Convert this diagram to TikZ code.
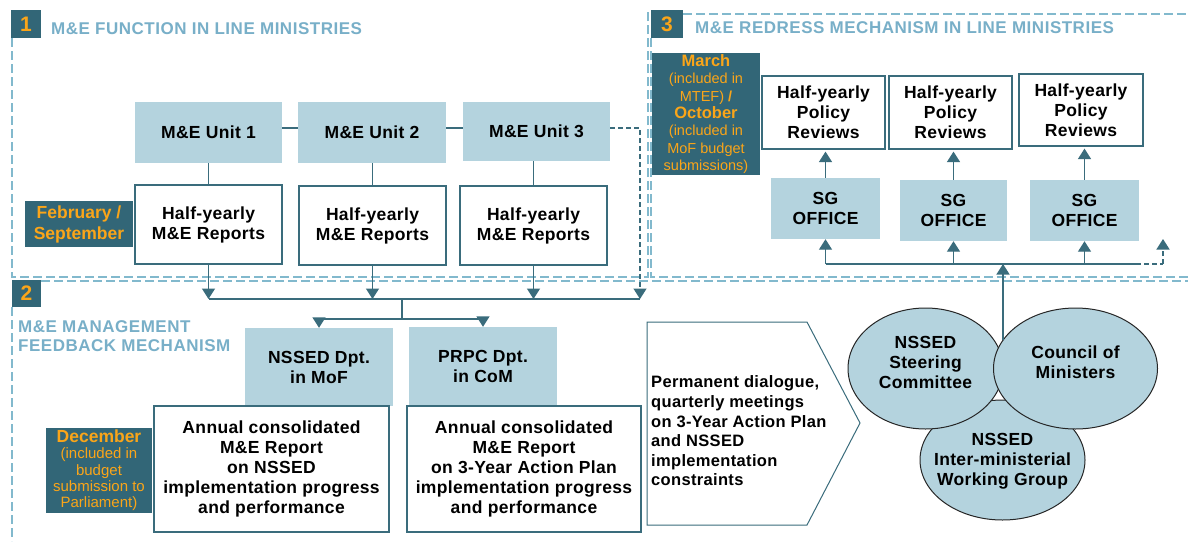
\documentclass[tikz,border=0pt]{standalone}
\usepackage{fontspec}
\setmainfont{Liberation Sans}
\usetikzlibrary{arrows.meta,shapes.geometric}
\definecolor{tagbg}{RGB}{50,102,119}
\definecolor{tagfg}{RGB}{250,165,25}
\definecolor{lbfill}{RGB}{180,211,222}
\definecolor{ttlblue}{RGB}{120,175,200}
\definecolor{secdash}{RGB}{130,185,205}
\definecolor{lncol}{RGB}{58,108,124}
\tikzset{
  mainf/.style={font=\fontsize{17.5}{20}\selectfont\bfseries\addfontfeature{LetterSpace=2}},
  lbox/.style={mainf, fill=lbfill, draw=none, align=center, inner sep=1pt},
  wbox/.style={mainf, fill=white, draw=lncol, line width=1.2pt, align=center, inner sep=1pt},
  tagbox/.style={fill=tagbg, text=tagfg, align=center, inner sep=0pt},
  numtag/.style={tagbox, font=\fontsize{21}{24}\selectfont\bfseries},
  ttl/.style={text=ttlblue, font=\fontsize{17}{19}\selectfont\bfseries\addfontfeature{LetterSpace=3}, align=left, inner sep=0pt},
  secb/.style={draw=secdash, line width=1.3pt, dash pattern=on 9pt off 4pt},
  conn/.style={draw=lncol, line width=1.4pt},
  arr/.style={conn, -{Triangle[length=10.5pt,width=13pt]}},
  ell/.style={ellipse, fill=lbfill, draw=black!85, line width=1pt, inner sep=0pt},
  elltxt/.style={mainf, align=center, inner sep=0pt}
}
\begin{document}
\begin{tikzpicture}[x=1pt,y=-1pt]
\useasboundingbox (0,0) rectangle (1188,541);
\fill[white] (0,0) rectangle (1188,541);

% section borders
\draw[secb] (12,38) -- (12,277) -- (648,277) -- (648,10);
\draw[secb] (651,38) -- (651,277) -- (1188,277);
\draw[secb] (683,14) -- (1188,14);
\draw[secb] (41,281) -- (1188,281);
\draw[secb] (12,307) -- (12,541);

% section tags and titles
\node[numtag, minimum width=30pt, minimum height=28pt] (n1) at (26,24) {1};
\node[ttl, anchor=west] (t1) at (51,29) {M\&E FUNCTION IN LINE MINISTRIES};
\node[numtag, minimum width=29pt, minimum height=27pt] (n2) at (26.5,293.5) {2};
\node[ttl, anchor=west] (t2) at (18,336.5) {M\&E MANAGEMENT\\FEEDBACK MECHANISM};
\node[numtag, minimum width=32pt, minimum height=28pt] (n3) at (667,24) {3};
\node[ttl, anchor=west] (t3) at (695,28) {M\&E REDRESS MECHANISM IN LINE MINISTRIES};

% section 1
\node[lbox, minimum width=147pt, minimum height=61pt] (u1) at (208.5,132.5) {M\&E Unit 1};
\node[lbox, minimum width=148pt, minimum height=61pt] (u2) at (372,132.5) {M\&E Unit 2};
\node[lbox, minimum width=147pt, minimum height=59pt] (u3) at (536.5,131.5) {M\&E Unit 3};
\node[wbox, minimum width=147pt, minimum height=79pt] (r1) at (208.5,224.5) {Half-yearly\\M\&E Reports};
\node[wbox, minimum width=147pt, minimum height=79pt] (r2) at (372.5,225.5) {Half-yearly\\M\&E Reports};
\node[wbox, minimum width=147pt, minimum height=79pt] (r3) at (533.5,225.5) {Half-yearly\\M\&E Reports};
\node[tagbox, font=\fontsize{17.5}{21}\selectfont\bfseries, minimum width=108pt, minimum height=46pt] (feb) at (79,224) {February /\\September};

\coordinate (h1) at (0,128);
\coordinate (bus) at (0,299);
\coordinate (d3) at (640,299);
\draw[conn] (u1.east |- h1) -- (u2.west |- h1);
\draw[conn] (u2.east |- h1) -- (u3.west |- h1);
\draw[conn] (u1.south -| r1.north) -- (r1.north);
\draw[conn] (u2.south -| r2.north) -- (r2.north);
\draw[conn] (u3.south -| r3.north) -- (r3.north);
\draw[arr, dash pattern=on 5pt off 3pt] (u3.east |- h1) -| (d3);
\draw[arr] (r1.south) -- (r1.south |- bus);
\draw[arr] (r2.south) -- (r2.south |- bus);
\draw[arr] (r3.south) -- (r3.south |- bus);
\draw[conn] (r1.south |- bus) -- (d3);

% section 2
\node[lbox, minimum width=148pt, minimum height=78pt] (nssed) at (319,367) {NSSED Dpt.\\in MoF};
\node[lbox, minimum width=148pt, minimum height=79pt] (prpc) at (483,366.5) {PRPC Dpt.\\in CoM};
\node[wbox, minimum width=235pt, minimum height=126pt] (annA) at (271.5,469) {Annual consolidated\\M\&E Report\\on NSSED\\implementation progress\\and performance};
\node[wbox, minimum width=234pt, minimum height=126pt] (annB) at (524,469) {Annual consolidated\\M\&E Report\\on 3-Year Action Plan\\implementation progress\\and performance};
\node[tagbox, font=\fontsize{15}{16.3}\selectfont, minimum width=106pt, minimum height=85pt] (dec) at (99,470.5) {{\fontsize{17.5}{18}\selectfont\bfseries December}\\(included in\\budget\\submission to\\Parliament)};

\coordinate (j2) at (402,299);
\coordinate (j3) at (402,319);
\draw[conn] (j2) -- (j3);
\draw[arr] (j3) -| (nssed.north);
\draw[arr] (j3) -| (prpc.north);

% section 3
\node[tagbox, font=\fontsize{14.5}{17.4}\selectfont, minimum width=108pt, minimum height=122pt] (mar) at (706,114) {{\fontsize{16.5}{17.4}\selectfont\bfseries March}\\(included in\\MTEF) {\bfseries /}\\{\fontsize{16.5}{17.4}\selectfont\bfseries October}\\(included in\\MoF budget\\submissions)};
\node[wbox, minimum width=123pt, minimum height=73pt] (pr1) at (823.5,112.5) {Half-yearly\\Policy\\Reviews};
\node[wbox, minimum width=123pt, minimum height=73pt] (pr2) at (950.5,112.5) {Half-yearly\\Policy\\Reviews};
\node[wbox, minimum width=124pt, minimum height=72pt] (pr3) at (1081,110) {Half-yearly\\Policy\\Reviews};
\node[lbox, minimum width=109pt, minimum height=61pt] (sg1) at (825.5,208.5) {SG\\OFFICE};
\node[lbox, minimum width=107pt, minimum height=61pt] (sg2) at (953.5,210.5) {SG\\OFFICE};
\node[lbox, minimum width=109pt, minimum height=61pt] (sg3) at (1084.5,210.5) {SG\\OFFICE};

\coordinate (b3) at (0,264);
\coordinate (b3e) at (1136,264);
\coordinate (b3d) at (1163,264);
\coordinate (b3t) at (1163,239);
\draw[arr, shorten >=2pt] (sg1.north) -- (sg1.north |- pr1.south);
\draw[arr, shorten >=2pt] (sg2.north) -- (sg2.north |- pr2.south);
\draw[arr, shorten >=2pt] (sg3.north) -- (sg3.north |- pr3.south);
\draw[conn] (sg1.south |- b3) -- (b3e);
\draw[conn, dash pattern=on 5pt off 3pt] (b3e) -- (b3d);
\draw[arr, dash pattern=on 5pt off 3pt] (b3d) -- (b3t);
\draw[arr] (sg1.south |- b3) -- (sg1.south);
\draw[arr] (sg2.south |- b3) -- (sg2.south);
\draw[arr] (sg3.south |- b3) -- (sg3.south);

% permanent dialogue pentagon
\draw[draw=lncol, line width=1pt, fill=white] (647,322) -- (807,322) -- (860,423) -- (807,525) -- (647,525) -- cycle;
\node[font=\fontsize{16.5}{19.6}\selectfont\bfseries\addfontfeature{LetterSpace=2}, align=left, anchor=west, inner sep=0pt] (perm) at (651,431) {Permanent dialogue,\\quarterly meetings\\on 3-Year Action Plan\\and NSSED\\implementation\\constraints};

% ellipses
\node[ell, minimum width=165pt, minimum height=120pt] (wg) at (1002.5,460) {};
\node[elltxt] (wgt) at (1002.5,461) {NSSED\\Inter-ministerial\\Working Group};
\node[ell, minimum width=155pt, minimum height=121pt] (sc) at (925.5,368.5) {};
\node[elltxt] (sct) at (925.5,362) {NSSED\\Steering\\Committee};
\node[ell, minimum width=164pt, minimum height=121pt] (cm) at (1075.5,368.5) {};
\node[elltxt] (cmt) at (1075.5,362.5) {Council of\\Ministers};
\coordinate (cj) at (1003,340);
\draw[arr] (cj) -- (cj |- b3);
\end{tikzpicture}
\end{document}
